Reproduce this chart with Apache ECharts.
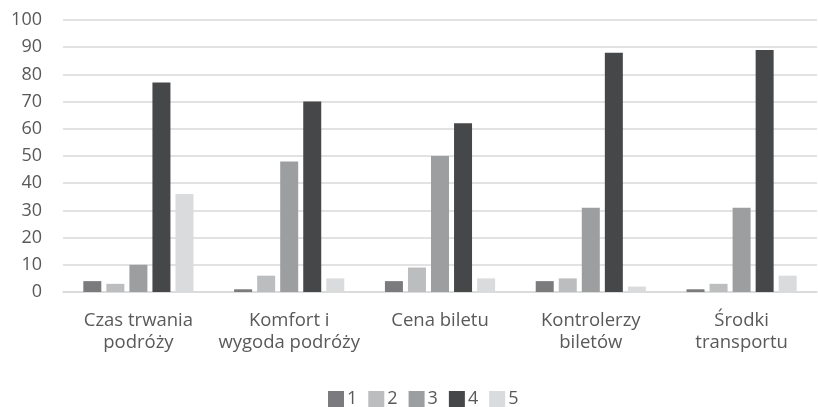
<!DOCTYPE html>
<html><head><meta charset="utf-8">
<script src="https://cdn.jsdelivr.net/npm/echarts@6/dist/echarts.min.js"></script>
<style>html,body{margin:0;padding:0;background:#fff}#c{width:818px;height:407px}</style>
</head><body><div id="c"></div>
<script>
const categories = ["Czas trwania\npodróży", "Komfort i\nwygoda podróży", "Cena biletu", "Kontrolerzy\nbiletów", "Środki\ntransportu"];
const seriesNames = ["1", "2", "3", "4", "5"];
const s1 = [4, 1, 4, 4, 1];
const s2 = [3, 6, 9, 5, 3];
const s3 = [10, 48, 50, 31, 31];
const s4 = [77, 70, 62, 88, 89];
const s5 = [36, 5, 5, 2, 6];
const yTicks = [0, 10, 20, 30, 40, 50, 60, 70, 80, 90, 100];
const colors = ["#7b7b7d", "#bcbdbf", "#9d9ea0", "#464749", "#dadbdc"];
const values = [s1, s2, s3, s4, s5];
const font = "Open Sans";
const chart = echarts.init(document.getElementById('c'));
chart.setOption({
  animation: false,
  color: colors,
  grid: { left: 63, right: 1, top: 20, bottom: 115 },
  legend: {
    data: seriesNames.map(n => ({ name: n, icon: 'rect' })),
    left: 328, top: 389, padding: 0, itemWidth: 16, itemHeight: 16, itemGap: 11,
    textStyle: { color: '#595959', fontSize: 18, fontFamily: font, lineHeight: 20, padding: [0, 0, 0, -2] }
  },
  xAxis: {
    type: 'category', data: categories,
    axisLine: { lineStyle: { color: '#d9d9d9', width: 1.5 } },
    axisTick: { show: false },
    axisLabel: { interval: 0, color: '#595959', fontSize: 18.5, fontFamily: font, lineHeight: 22, margin: 18 }
  },
  yAxis: {
    type: 'value', min: yTicks[0], max: yTicks[yTicks.length-1], interval: 10,
    axisLine: { show: false }, axisTick: { show: false },
    splitLine: { lineStyle: { color: '#d9d9d9', width: 1.5 } },
    axisLabel: { color: '#595959', fontSize: 18, fontFamily: font, margin: 21 }
  },
  series: seriesNames.map((n, i) => ({
    name: n, type: 'bar', data: values[i], barWidth: 18, barGap: '28%',
    itemStyle: { color: colors[i] }
  }))
});
</script></body></html>
